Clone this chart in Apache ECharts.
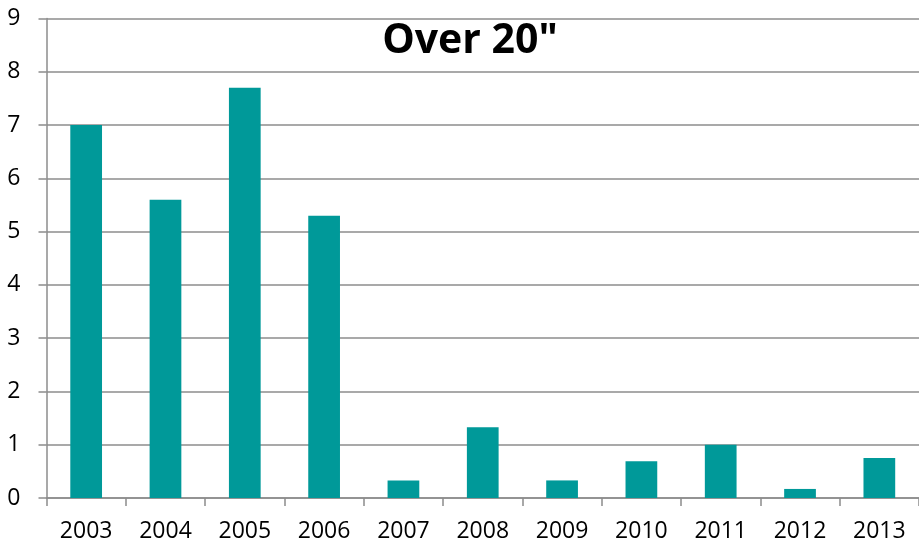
<!DOCTYPE html>
<html>
<head>
<meta charset="utf-8">
<style>
  html, body { margin: 0; padding: 0; background: #ffffff; }
  #chart { width: 919px; height: 546px; }
</style>
<script src="https://cdn.jsdelivr.net/npm/echarts@6/dist/echarts.min.js"></script>
</head>
<body>
<div id="chart"></div>
<script>
// Seasons with snowfall over 20 inches, per year
const years = ['2003', '2004', '2005', '2006', '2007', '2008', '2009', '2010', '2011', '2012', '2013'];
const counts = [7.0, 5.6, 7.7, 5.3, 0.33, 1.33, 0.33, 0.69, 1.0, 0.17, 0.75];
const titleText = 'Over 20"';

const axisGray = '#8c8c8c';
const font = '"Open Sans", "Liberation Sans", sans-serif';

const chart = echarts.init(document.getElementById('chart'), null, { renderer: 'canvas' });
chart.setOption({
  animation: false,
  backgroundColor: '#ffffff',
  title: {
    text: titleText,
    left: 465,
    top: 16,
    textAlign: 'center',
    textStyle: { fontFamily: font, fontWeight: 'bold', fontSize: 41, color: '#000000' }
  },
  grid: { left: 46.5, right: 0, top: 18.5, bottom: 48, containLabel: false },
  xAxis: {
    type: 'category',
    data: years,
    boundaryGap: true,
    axisLine: { show: true, lineStyle: { color: axisGray, width: 1.5 } },
    axisTick: { show: true, alignWithLabel: false, length: 8, lineStyle: { color: axisGray, width: 1.5 } },
    axisLabel: { color: '#000000', fontFamily: font, fontSize: 23, margin: 22, interval: 0 },
    splitLine: { show: false }
  },
  yAxis: {
    type: 'value',
    min: 0,
    max: 9,
    interval: 1,
    axisLine: { show: true, lineStyle: { color: axisGray, width: 1.5 } },
    axisTick: { show: true, length: 8, lineStyle: { color: axisGray, width: 1.5 } },
    axisLabel: { color: '#000000', fontFamily: font, fontSize: 23, margin: 26 },
    splitLine: { show: true, lineStyle: { color: axisGray, width: 1.5 } }
  },
  series: [{
    type: 'bar',
    data: counts,
    barWidth: '40%',
    itemStyle: { color: '#009999' }
  }]
});
</script>
</body>
</html>
